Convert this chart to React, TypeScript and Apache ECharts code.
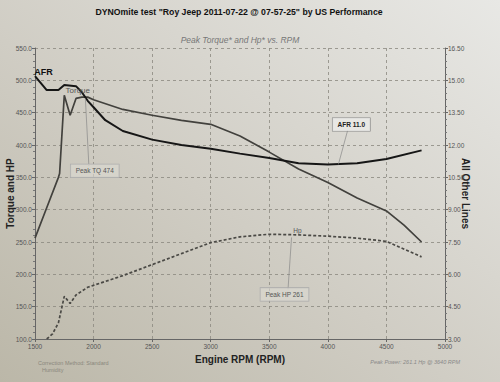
import React, { useEffect, useRef } from "react";
import * as echarts from "echarts";

// ---- data read from the dyno sheet ----
const rpmTicks = [1500, 2000, 2500, 3000, 3500, 4000, 4500, 5000];

const torqueRpm = [1500, 1600, 1700, 1710, 1750, 1800, 1850, 1900, 1950, 2000, 2250, 2500, 2750, 3000, 3250, 3500, 3750, 4000, 4250, 4500, 4650, 4800];
const torqueValues = [256, 303, 350, 356, 477, 446, 472, 474, 474, 470, 455, 446, 438, 432, 414, 389, 363, 342, 318, 298, 276, 250];

const hpRpm = [1600, 1650, 1700, 1750, 1800, 1850, 1950, 2000, 2250, 2500, 2750, 3000, 3250, 3500, 3750, 4000, 4250, 4500, 4800];
const hpValues = [100, 108, 125, 166, 155, 168, 180, 183, 198, 215, 232, 249, 258, 262, 261, 259, 256, 251, 227];

const afrRpm = [1500, 1600, 1700, 1750, 1850, 1900, 1950, 2000, 2100, 2250, 2500, 2750, 3000, 3250, 3500, 3750, 4000, 4250, 4500, 4800];
const afrValues = [15.2, 14.55, 14.55, 14.78, 14.73, 14.45, 14.05, 13.75, 13.15, 12.65, 12.25, 12.0, 11.83, 11.6, 11.4, 11.15, 11.1, 11.15, 11.35, 11.75];

const peakTorque = 474;
const peakHp = 261;
const afrNote = 11.0;

const pairs = (xs: number[], ys: number[]) => xs.map((x, i) => [x, ys[i]]);

const FONT = "Liberation Sans";

export default function App() {
  const ref = useRef<HTMLDivElement>(null);

  useEffect(() => {
    if (!ref.current) return;
    const chart = echarts.init(ref.current, undefined, { renderer: "svg" });

    const boxLabel = (text: string) => ({
      show: true,
      position: "inside",
      align: "center",
      verticalAlign: "middle",
      formatter: text,
      fontFamily: FONT,
      fontSize: 6.5,
      color: "#555",
      backgroundColor: "rgba(220,218,210,0.6)",
      borderColor: "#aaa",
      borderWidth: 0.6,
      padding: [3, 5],
    });

    const plainLabel = (text: string, size: number, color: string, weight = "normal") => ({
      show: true,
      position: "inside",
      align: "center",
      verticalAlign: "middle",
      formatter: text,
      fontFamily: FONT,
      fontSize: size,
      fontWeight: weight,
      color,
    });

    const leader = { color: "#888", width: 0.7, type: "solid" };

    const option: any = {
      animation: false,
      backgroundColor: {
        type: "linear",
        x: 0,
        y: 1,
        x2: 1,
        y2: 0,
        colorStops: [
          { offset: 0, color: "#bbb7a8" },
          { offset: 0.45, color: "#d0cdc4" },
          { offset: 1, color: "#e8e8e5" },
        ],
      },
      grid: { left: 35, right: 55, top: 48, bottom: 43, containLabel: false, outerBoundsMode: "none" },
      xAxis: {
        type: "value",
        min: 1500,
        max: 5000,
        interval: 500,
        name: "Engine RPM (RPM)",
        nameLocation: "middle",
        nameGap: 15,
        nameMoveOverlap: false,
        nameTextStyle: { fontFamily: FONT, fontSize: 10, fontWeight: "bold", color: "#222" },
        axisLine: { show: true, lineStyle: { color: "#666", width: 1 } },
        axisTick: { show: true, length: 3, lineStyle: { color: "#666" } },
        axisLabel: {
          fontFamily: FONT,
          fontSize: 6.5,
          color: "#555",
          margin: 4,
          customValues: rpmTicks,
          formatter: (v: number) => String(v),
        },
        splitLine: { show: true, lineStyle: { color: "#8a887f", type: [3, 3], width: 0.8 } },
      },
      yAxis: [
        {
          type: "value",
          min: 100,
          max: 550,
          interval: 50,
          name: "Torque and HP",
          nameLocation: "middle",
          nameGap: 20,
          nameMoveOverlap: false,
          nameTextStyle: { fontFamily: FONT, fontSize: 10, fontWeight: "bold", color: "#222" },
          axisLine: { show: true, lineStyle: { color: "#666", width: 1 } },
          axisTick: { show: true, length: 3, lineStyle: { color: "#666" } },
          minorTick: { show: true, splitNumber: 5, length: 2, lineStyle: { color: "#777" } },
          axisLabel: {
            fontFamily: FONT,
            fontSize: 6.5,
            color: "#555",
            margin: 3,
            formatter: (v: number) => v.toFixed(1),
          },
          splitLine: { show: true, lineStyle: { color: "#8a887f", type: [3, 3], width: 0.8 } },
        },
        {
          type: "value",
          min: 3,
          max: 16.5,
          interval: 1.5,
          position: "right",
          name: "All Other Lines",
          nameLocation: "middle",
          nameGap: 15,
          nameRotate: -90,
          nameMoveOverlap: false,
          nameTextStyle: { fontFamily: FONT, fontSize: 10, fontWeight: "bold", color: "#222" },
          axisLine: { show: true, lineStyle: { color: "#666", width: 1 } },
          axisTick: { show: true, length: 3, lineStyle: { color: "#666" } },
          minorTick: { show: true, splitNumber: 5, length: 2, lineStyle: { color: "#777" } },
          axisLabel: {
            fontFamily: FONT,
            fontSize: 6.5,
            color: "#555",
            margin: 3,
            formatter: (v: number) => v.toFixed(2),
          },
          splitLine: { show: false },
        },
      ],
      series: [
        {
          name: "Torque",
          type: "line",
          yAxisIndex: 0,
          data: pairs(torqueRpm, torqueValues),
          symbol: "none",
          lineStyle: { color: "#42413d", width: 1.7 },
          z: 3,
          markPoint: {
            symbol: "circle",
            symbolSize: 0,
            data: [
              { coord: [1865, 485], label: plainLabel("Torque", 8, "#555") },
              { coord: [2010, 360], label: boxLabel(`Peak TQ ${peakTorque}`) },
            ],
          },
          markLine: {
            silent: true,
            symbol: ["none", "none"],
            label: { show: false },
            lineStyle: leader,
            data: [[{ coord: [1930, 472] }, { coord: [1960, 368] }]],
          },
        },
        {
          name: "Hp",
          type: "line",
          yAxisIndex: 0,
          data: pairs(hpRpm, hpValues),
          symbol: "none",
          lineStyle: { color: "#4a4945", width: 1.7, type: [3, 2] },
          z: 3,
          markPoint: {
            symbol: "circle",
            symbolSize: 0,
            data: [
              { coord: [3740, 268], label: plainLabel("Hp", 6.5, "#555") },
              { coord: [3630, 169], label: boxLabel(`Peak HP ${peakHp}`) },
            ],
          },
          markLine: {
            silent: true,
            symbol: ["none", "none"],
            label: { show: false },
            lineStyle: leader,
            data: [[{ coord: [3660, 177] }, { coord: [3690, 257] }]],
          },
        },
        {
          name: "AFR",
          type: "line",
          yAxisIndex: 1,
          data: pairs(afrRpm, afrValues),
          symbol: "none",
          lineStyle: { color: "#161616", width: 2 },
          z: 4,
          markPoint: {
            symbol: "circle",
            symbolSize: 0,
            data: [
              { coord: [1572, 15.4], label: plainLabel("AFR", 9, "#111", "bold") },
              {
                coord: [4200, 12.95],
                label: {
                  ...boxLabel(`AFR ${afrNote.toFixed(1)}`),
                  color: "#222",
                  fontWeight: "bold",
                  borderColor: "#888",
                  backgroundColor: "rgba(235,235,232,0.8)",
                },
              },
            ],
          },
          markLine: {
            silent: true,
            symbol: ["none", "none"],
            label: { show: false },
            lineStyle: leader,
            data: [[{ coord: [4170, 12.7] }, { coord: [4090, 11.1] }]],
          },
        },
      ],
      graphic: [
        {
          type: "text",
          x: 239,
          y: 12,
          style: {
            text: 'DYNOmite test "Roy Jeep 2011-07-22 @ 07-57-25" by US Performance',
            fontFamily: FONT,
            fontSize: 8.7,
            fontWeight: "bold",
            fill: "#111",
            align: "center",
            verticalAlign: "middle",
          },
        },
        {
          type: "text",
          x: 240,
          y: 40,
          style: {
            text: "Peak Torque* and Hp* vs. RPM",
            fontFamily: FONT,
            fontSize: 8.5,
            fontStyle: "italic",
            fill: "#777",
            align: "center",
            verticalAlign: "middle",
          },
        },
        {
          type: "text",
          x: 38,
          y: 363,
          style: {
            text: "Correction Method: Standard",
            fontFamily: FONT,
            fontSize: 5.5,
            fill: "#8a877c",
            align: "left",
            verticalAlign: "middle",
          },
        },
        {
          type: "text",
          x: 42,
          y: 370,
          style: {
            text: "Humidity",
            fontFamily: FONT,
            fontSize: 5.5,
            fill: "#8a877c",
            align: "left",
            verticalAlign: "middle",
          },
        },
        {
          type: "text",
          x: 460,
          y: 362,
          style: {
            text: "Peak Power: 261.1 Hp @ 3640 RPM",
            fontFamily: FONT,
            fontSize: 5.5,
            fontStyle: "italic",
            fill: "#888",
            align: "right",
            verticalAlign: "middle",
          },
        },
      ],
    };

    chart.setOption(option);
    return () => chart.dispose();
  }, []);

  return (
    <div
      ref={ref}
      style={{ position: "absolute", left: 0, top: 0, width: 500, height: 382 }}
    />
  );
}
